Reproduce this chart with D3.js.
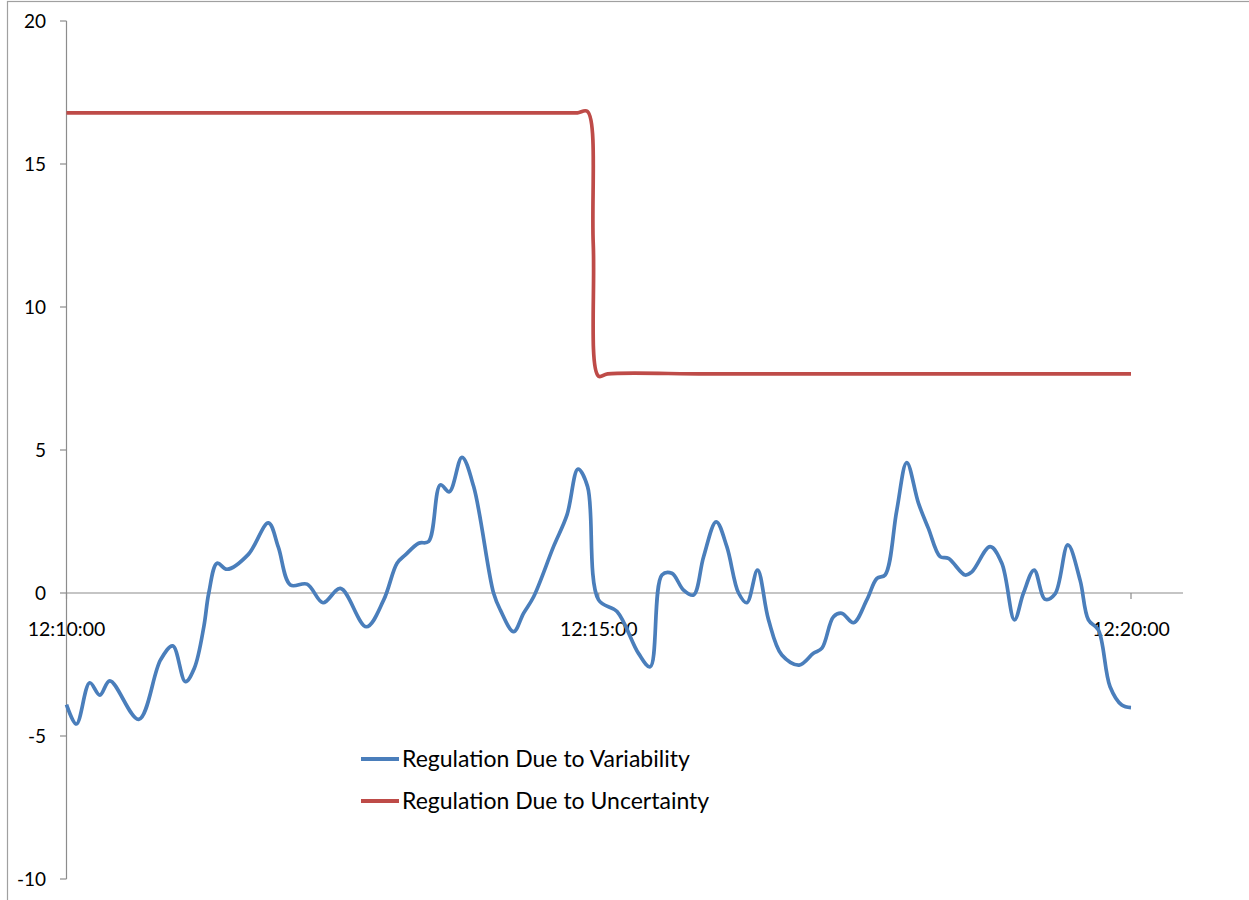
<!DOCTYPE html>
<html>
<head>
<meta charset="utf-8">
<script src="https://cdn.jsdelivr.net/npm/d3@7"></script>
<style>
body { margin: 0; background: #fff; }
text { font-family: Lato, "Liberation Sans", sans-serif; }
</style>
</head>
<body>
<div id="chart"></div>
<script>
// seconds after 12:10:00
var blueTimes = [0, 5.6, 13.1, 18.8, 24.4, 40.7, 53, 59.9, 67, 72.1, 77.4, 80.2, 84.9, 90.5, 102.5, 113.8, 119.4,
	126.2, 135.6, 144.6, 154.4, 169, 178.8, 186.3, 191, 198.5, 204.1, 210.7, 215.8, 222.9, 229.5, 240.7, 244.5,
	252, 257.6, 263.3, 274.5, 282.1, 288.3, 293.7, 299.9, 310.3, 322.4, 329, 335.6, 341.2, 347.8, 353.4, 359.1,
	366.2, 372.2, 378.8, 383.5, 389.5, 395.7, 403.2, 413, 421, 425.8, 432.3, 437, 443.6, 451.1, 456.8, 461.4,
	468, 473.6, 480.2, 485.8, 492.4, 497.1, 506.5, 510.3, 520.6, 527.2, 534.3, 539.4, 545.4, 551.6, 557.2,
	564.4, 571.3, 576, 581.6, 588.2, 594.8, 600];
var blueValues = [-3.9, -4.58, -3.14, -3.57, -3.07, -4.42, -2.34, -1.85, -3.1, -2.62, -1.18, 0, 1.04, 0.83, 1.35, 2.45, 1.6,
	0.28, 0.31, -0.34, 0.16, -1.18, -0.24, 1.04, 1.33, 1.74, 1.8, 3.78, 3.54, 4.74, 3.72, 0, -0.59,
	-1.35, -0.71, -0.13, 1.62, 2.73, 4.33, 3.72, -0.24, -0.65, -2.11, -2.58, 0.63, 0.69, 0.1, -0.07, 1.27,
	2.49, 1.62, 0, -0.34, 0.8, -0.94, -2.17, -2.52, -2.11, -1.93, -0.83, -0.71, -1.04, -0.24, 0.51, 0.63,
	2.9, 4.56, 3.14, 2.26, 1.27, 1.21, 0.63, 0.74, 1.62, 1.04, -0.94, 0, 0.8, -0.22, -0.03,
	1.68, 0.45, -0.94, -1.29, -3.28, -3.92, -4.01];

var redTimes = [0, 60, 120, 180, 240, 282, 288, 293.6, 296.9, 299.9, 305, 360, 420, 480, 540, 600];
var redValues = [16.79, 16.79, 16.79, 16.79, 16.79, 16.79, 16.79, 16.84, 12.2, 7.58, 7.66, 7.66, 7.66, 7.66, 7.66, 7.66];

var yTicks = [-10, -5, 0, 5, 10, 15, 20];
var xTicks = [0, 300, 600];
var xTickLabels = ["12:10:00", "12:15:00", "12:20:00"];

var seriesNames = ["Regulation Due to Variability", "Regulation Due to Uncertainty"];
var seriesColors = ["#4a7ebb", "#be4b48"];

var width = 1249, height = 900;

var svg = d3.select("#chart").append("svg")
	.attr("width", width)
	.attr("height", height);

// outer frame
svg.append("rect")
	.attr("x", 7.5).attr("y", 1.5)
	.attr("width", width + 10).attr("height", height + 10)
	.attr("fill", "none")
	.attr("stroke", "#a0a0a0")
	.attr("stroke-width", 1.2);

var x = d3.scaleLinear().domain([0, 600]).range([66.5, 1131]);
var y = d3.scaleLinear().domain([-10, 20]).range([879, 21]);

// y axis
svg.append("line")
	.attr("x1", 66.5).attr("x2", 66.5)
	.attr("y1", y(20)).attr("y2", y(-10))
	.attr("stroke", "#8c8c8c").attr("stroke-width", 1.2);
svg.selectAll(".ytick").data(yTicks).enter().append("line")
	.attr("x1", 60).attr("x2", 66.5)
	.attr("y1", function(d){ return y(d); })
	.attr("y2", function(d){ return y(d); })
	.attr("stroke", "#8c8c8c").attr("stroke-width", 1.2);
svg.selectAll(".ylab").data(yTicks).enter().append("text")
	.attr("x", 46)
	.attr("y", function(d){ return y(d) + 7; })
	.attr("text-anchor", "end")
	.attr("font-size", "19px")
	.attr("fill", "#000")
	.text(function(d){ return d; });

// x axis at zero
svg.append("line")
	.attr("x1", 66.5).attr("x2", 1183)
	.attr("y1", y(0)).attr("y2", y(0))
	.attr("stroke", "#8c8c8c").attr("stroke-width", 1.2);
svg.selectAll(".xtick").data(xTicks).enter().append("line")
	.attr("x1", function(d){ return x(d); })
	.attr("x2", function(d){ return x(d); })
	.attr("y1", y(0)).attr("y2", y(0) + 6)
	.attr("stroke", "#8c8c8c").attr("stroke-width", 1.2);
svg.selectAll(".xlab").data(xTicks).enter().append("text")
	.attr("x", function(d){ return x(d); })
	.attr("y", y(0) + 43)
	.attr("text-anchor", "middle")
	.attr("font-size", "19.5px")
	.attr("fill", "#000")
	.text(function(d, i){ return xTickLabels[i]; });

var line = d3.line()
	.x(function(d){ return x(d[0]); })
	.y(function(d){ return y(d[1]); })
	.curve(d3.curveCatmullRom.alpha(0.5));

svg.append("path")
	.datum(d3.zip(redTimes, redValues))
	.attr("d", line)
	.attr("fill", "none")
	.attr("stroke", seriesColors[1])
	.attr("stroke-width", 3.7)
	.attr("stroke-linejoin", "round");

svg.append("path")
	.datum(d3.zip(blueTimes, blueValues))
	.attr("d", line)
	.attr("fill", "none")
	.attr("stroke", seriesColors[0])
	.attr("stroke-width", 3.7)
	.attr("stroke-linejoin", "round");

// legend
var legend = svg.selectAll(".legend").data(seriesNames).enter().append("g")
	.attr("transform", function(d, i){ return "translate(361," + (759 + i * 42) + ")"; });
legend.append("line")
	.attr("x1", 0).attr("x2", 38)
	.attr("y1", 0).attr("y2", 0)
	.attr("stroke", function(d, i){ return seriesColors[i]; })
	.attr("stroke-width", 4);
legend.append("text")
	.attr("x", 41)
	.attr("y", 8)
	.attr("font-size", "23px")
	.attr("fill", "#000")
	.text(function(d){ return d; });
</script>
</body>
</html>
